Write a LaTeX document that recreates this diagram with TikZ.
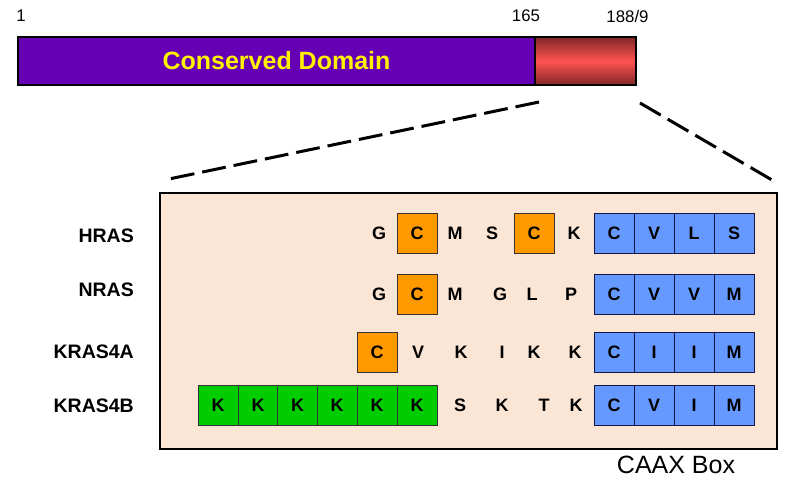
\documentclass[tikz,border=0pt]{standalone}
\usepackage{fontspec}
\setmainfont{Liberation Sans}
\usepackage{tikz}
\usetikzlibrary{calc}
\usetikzlibrary{shapes}

\definecolor{cdpurple}{RGB}{102,0,180}
\definecolor{tailred}{RGB}{255,82,82}
\definecolor{taildark}{RGB}{130,38,38}
\definecolor{zoompeach}{RGB}{251,230,214}
\definecolor{cysorange}{RGB}{255,153,0}
\definecolor{caaxblue}{RGB}{102,153,255}
\definecolor{lysgreen}{RGB}{0,204,0}
\definecolor{cellnavy}{RGB}{20,20,70}

\begin{document}
\begin{tikzpicture}[x=1pt, y=-1pt,
        bar_style/.style={rectangle,draw=black,line width=1.4pt,minimum height=48pt,inner sep=0pt},
        pos_style/.style={inner sep=0pt,font=\fontsize{16.8}{18}\selectfont},
        name_style/.style={anchor=east,inner sep=0pt,font=\fontsize{19.5}{22}\selectfont\bfseries},
        cell_style/.style={rectangle,minimum width=40pt,minimum height=40pt,inner sep=0pt,line width=0.8pt,font=\fontsize{18}{20}\selectfont\bfseries},
        cys_style/.style={cell_style,draw=black!80,fill=cysorange},
        lys_style/.style={cell_style,draw=black!80,fill=lysgreen},
        caax_style/.style={cell_style,draw=cellnavy,fill=caaxblue},
        res_style/.style={inner sep=0pt,font=\fontsize{18}{20}\selectfont\bfseries},
        dash_style/.style={draw=black,line width=3pt,dash pattern=on 24pt off 8pt}]
        \useasboundingbox (0,0) rectangle (793,490);

        % whole protein
        \node [bar_style,fill=cdpurple,minimum width=517pt,text=yellow,font=\fontsize{25}{28}\selectfont\bfseries](cd) at (276.5,61) {Conserved Domain};
        \node [bar_style,minimum width=101pt,top color=taildark,bottom color=taildark,middle color=tailred](tail) at (585.5,61) {};
        \node [pos_style](p1) at (21,16) {1};
        \node [pos_style](p165) at (526,16) {165};
        \node [pos_style](p188) at (627.5,16) {188/9};

        % zoom on the tail
        \node [rectangle,draw=black,line width=1.4pt,fill=zoompeach,minimum width=617pt,minimum height=256pt](zoom) at (468.5,321) {};
        \coordinate (zl1) at (539,102);
        \coordinate (zl2) at (169,179);
        \coordinate (zr1) at (640,103);
        \coordinate (zr2) at (772,180);
        \draw [dash_style] (zl1) -- (zl2);
        \draw [dash_style] (zr1) -- (zr2);

        \node [name_style](lh) at (134,236) {HRAS};
        \node [name_style](ln) at (134,290) {NRAS};
        \node [name_style](lka) at (134,352) {KRAS4A};
        \node [name_style](lkb) at (134,405.5) {KRAS4B};

        % HRAS
        \node [res_style](h1) at (379,233) {G};
        \node [cys_style](h2) at (417,233) {C};
        \node [res_style](h3) at (455,233) {M};
        \node [res_style](h4) at (492,233) {S};
        \node [cys_style](h5) at (534,233) {C};
        \node [res_style](h6) at (574,233) {K};
        \node [caax_style](h7) at (614,233) {C};
        \node [caax_style](h8) at (654,233) {V};
        \node [caax_style](h9) at (694,233) {L};
        \node [caax_style](h10) at (734,233) {S};

        % NRAS
        \node [res_style](nr1) at (379,294.5) {G};
        \node [cys_style](nr2) at (417,294.5) {C};
        \node [res_style](nr3) at (455,294.5) {M};
        \node [res_style](nr4) at (500,294.5) {G};
        \node [res_style](nr5) at (532,294.5) {L};
        \node [res_style](nr6) at (571,294.5) {P};
        \node [caax_style](nr7) at (614,294.5) {C};
        \node [caax_style](nr8) at (654,294.5) {V};
        \node [caax_style](nr9) at (694,294.5) {V};
        \node [caax_style](nr10) at (734,294.5) {M};

        % KRAS4A
        \node [cys_style](ka1) at (377,352.5) {C};
        \node [res_style](ka2) at (418,352.5) {V};
        \node [res_style](ka3) at (461,352.5) {K};
        \node [res_style](ka4) at (502,352.5) {I};
        \node [res_style](ka5) at (534,352.5) {K};
        \node [res_style](ka6) at (575,352.5) {K};
        \node [caax_style](ka7) at (614,352.5) {C};
        \node [caax_style](ka8) at (654,352.5) {I};
        \node [caax_style](ka9) at (694,352.5) {I};
        \node [caax_style](ka10) at (734,352.5) {M};

        % KRAS4B
        \node [lys_style](kb1) at (218,405.5) {K};
        \node [lys_style](kb2) at (258,405.5) {K};
        \node [lys_style](kb3) at (297.5,405.5) {K};
        \node [lys_style](kb4) at (337,405.5) {K};
        \node [lys_style](kb5) at (377,405.5) {K};
        \node [lys_style](kb6) at (417,405.5) {K};
        \node [res_style](kb7) at (460,405.5) {S};
        \node [res_style](kb8) at (502,405.5) {K};
        \node [res_style](kb9) at (544,405.5) {T};
        \node [res_style](kb10) at (576,405.5) {K};
        \node [caax_style](kb11) at (614,405.5) {C};
        \node [caax_style](kb12) at (654,405.5) {V};
        \node [caax_style](kb13) at (694,405.5) {I};
        \node [caax_style](kb14) at (734,405.5) {M};

        \node [inner sep=0pt,font=\fontsize{25}{28}\selectfont](caax) at (676,465) {CAAX Box};

        \end{tikzpicture}
\end{document}
